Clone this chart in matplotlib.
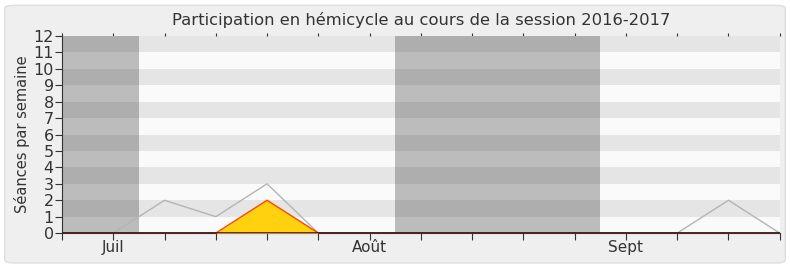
import numpy as np
import matplotlib.pyplot as plt
from matplotlib.patches import FancyBboxPatch

# weekly values, one per week
weeks = list(range(15))
seances_total = [0, 0, 2, 1, 3, 0, 0, 0, 0, 0, 0, 0, 0, 2, 0]
seances_depute = [0, 0, 0, 0, 2, 0, 0, 0, 0, 0, 0, 0, 0, 0, 0]
month_ticks = [1, 6, 11]
month_labels = ['Juil', 'Août', 'Sept']
# vacation periods (in week units)
vacances = [(0, 1.5), (6.5, 10.5)]

fig = plt.figure(figsize=(7.9, 2.67), dpi=100, facecolor='white')
fig.patches.append(FancyBboxPatch((0.006, 0.015), 0.988, 0.965, boxstyle='round,pad=0,rounding_size=0.012',
                                  transform=fig.transFigure, facecolor='#efefef', edgecolor='#dedede',
                                  linewidth=1, zorder=-1))
ax = fig.add_axes([0.0785, 0.127, 0.9085, 0.738])
ax.set_zorder(1)
ax.set_facecolor('#fafafa')

ymax = 12
# horizontal stripes
for y in range(0, ymax):
    if y % 2 == 1:
        ax.axhspan(y, y + 1, color='#e5e5e5', lw=0, zorder=0)
for x0, x1 in vacances:
    for y in range(0, ymax):
        c = '#aeaeae' if y % 2 == 1 else '#bcbcbc'
        ax.fill_between([x0, x1], y, y + 1, color=c, lw=0, zorder=1)

ax.plot(weeks, seances_total, color='#b4b4b4', lw=1, zorder=2)
ax.fill_between(weeks, seances_depute, 0, color='#ffd10f', lw=0, zorder=3)
ax.plot(weeks, seances_depute, color='#ff4500', lw=1, zorder=4)
ax.axhline(0, color='#4a0a0a', lw=1.2, zorder=5)

ax.set_xlim(0, 14)
ax.set_ylim(0, ymax)
ax.set_yticks(range(0, ymax + 1))
ax.set_xticks(weeks)
ax.set_xticklabels(['' if w not in month_ticks else month_labels[month_ticks.index(w)] for w in weeks])
ax.tick_params(axis='x', length=5, color='#333333', labelsize=11, labelcolor='#333333', pad=0)
ax.tick_params(axis='y', length=5, color='#333333', labelsize=11.5, labelcolor='#333333', pad=1)
top = ax.secondary_xaxis('top')
top.set_xticks(weeks)
top.tick_params(length=2, color='#333333', labelsize=0, labeltop=False)
top.spines['top'].set_visible(False)
for s in ['top', 'right']:
    ax.spines[s].set_visible(False)
ax.spines['left'].set_color('#333333')
ax.spines['bottom'].set_color('#333333')
ax.set_ylabel('Séances par semaine', fontsize=10.5, color='#333333', labelpad=2)
ax.set_title('Participation en hémicycle au cours de la session 2016-2017', fontsize=11.8,
             color='#333333', pad=8)

fig.savefig('out.png', dpi=100, facecolor=fig.get_facecolor())
